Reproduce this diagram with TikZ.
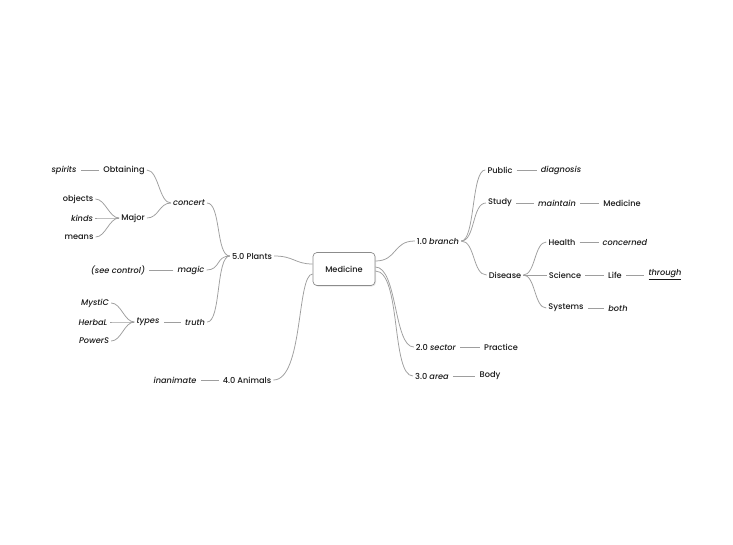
\documentclass[tikz,border=0pt]{standalone}
\usepackage{fontspec}
\setmainfont{Poppins}[UprightFont=* Medium, ItalicFont=* Medium Italic]
\usetikzlibrary{shadows}
\begin{document}
\begin{tikzpicture}[x=1pt,y=-1pt,
  t/.style={font=\fontsize{8.2}{10}\selectfont, inner sep=2pt, text=black!90},
  it/.style={t, font=\fontsize{8.2}{10}\selectfont\itshape},
  ln/.style={draw=black!38, line width=0.75pt},
  sl/.style={ln, shorten >=2pt, shorten <=2pt},
  box/.style={t, draw=black!45, line width=0.7pt, rounded corners=4pt, fill=white,
    minimum width=62pt, minimum height=33pt,
    drop shadow={opacity=0.2, shadow xshift=1pt, shadow yshift=-1pt}}]
\useasboundingbox[fill=white] (0,0) rectangle (733,544);
% center
\node[box] (med) at (344,269) {Medicine};
% right side
\node[t] (b1) at (438,241) {1.0 \textit{branch}};
\node[t] (pub) at (500,170) {Public};
\node[it] (diag) at (561,170) {diagnosis};
\node[t] (study) at (500,203) {Study};
\node[it] (maint) at (557,203) {maintain};
\node[t] (med2) at (622,203) {Medicine};
\node[t] (dis) at (505,275) {Disease};
\node[t] (health) at (562,242) {Health};
\node[it] (conc) at (625,242) {concerned};
\node[t] (sci) at (565,275) {Science};
\node[t] (life) at (615,275) {Life};
\node[it] (thr) at (665,275) {\underline{through}};
\node[t] (sys) at (566,308) {Systems};
\node[it] (both) at (618,308) {both};
\node[t] (b2) at (436,347) {2.0 \textit{sector}};
\node[t] (prac) at (501,347) {Practice};
\node[t] (b3) at (432,376) {3.0 \textit{area}};
\node[t] (body) at (490,376) {Body};
% left side
\node[t] (b5) at (252,256) {5.0 Plants};
\node[it] (concert) at (189,203) {concert};
\node[t] (obt) at (124,170) {Obtaining};
\node[it] (spir) at (64,170) {spirits};
\node[t] (major) at (133,218) {Major};
\node[t] (obj) at (78,199) {objects};
\node[it] (kinds) at (82,218) {kinds};
\node[t] (means) at (79,237) {means};
\node[it] (magic) at (191,270) {magic};
\node[it] (see) at (118,270) {(see control)};
\node[it] (truth) at (195,322) {truth};
\node[it] (types) at (148,322) {types};
\node[it] (myst) at (95,303) {MystiC};
\node[it] (herb) at (93,322) {HerbaL};
\node[it] (pow) at (94,341) {PowerS};
\node[t] (b4) at (247,380) {4.0 Animals};
\node[it] (inan) at (175,380) {inanimate};
% connectors: center
\draw[ln] ([yshift=8pt]med.east) .. controls +(22,0) and +(-22,0) .. (b1.west);
\draw[ln] ([yshift=2pt]med.east) .. controls +(22,0) and +(-20,0) .. (b2.west);
\draw[ln] ([yshift=-2pt]med.east) .. controls +(26,0) and +(-22,0) .. (b3.west);
\draw[ln] (b5.east) .. controls +(20,0) and +(-18,0) .. ([yshift=5pt]med.west);
\draw[ln] (b4.east) .. controls +(30,0) and +(-16,0) .. ([yshift=-5pt]med.west);
% right branches
\foreach \c in {pub,study,dis}
  \draw[ln] (b1.east) .. controls +(14,0) and +(-14,0) .. (\c.west);
\foreach \c in {health,sci,sys}
  \draw[ln] (dis.east) .. controls +(12,0) and +(-12,0) .. (\c.west);
\draw[sl] (pub) -- (diag);
\draw[sl] (study) -- (maint);
\draw[sl] (maint) -- (med2);
\draw[sl] (health) -- (conc);
\draw[sl] (sci) -- (life);
\draw[sl] (life) -- (thr);
\draw[sl] (sys) -- (both);
\draw[sl] (b2) -- (prac);
\draw[sl] (b3) -- (body);
% left branches
\foreach \c in {concert,magic,truth}
  \draw[ln] (b5.west) .. controls +(-14,0) and +(14,0) .. (\c.east);
\foreach \c in {obt,major}
  \draw[ln] (concert.west) .. controls +(-12,0) and +(12,0) .. (\c.east);
\foreach \c in {obj,kinds,means}
  \draw[ln] (major.west) .. controls +(-10,0) and +(10,0) .. (\c.east);
\foreach \c in {myst,herb,pow}
  \draw[ln] (types.west) .. controls +(-10,0) and +(10,0) .. (\c.east);
\draw[sl] (obt) -- (spir);
\draw[sl] (magic) -- (see);
\draw[sl] (truth) -- (types);
\draw[sl] (b4) -- (inan);
\end{tikzpicture}
\end{document}
